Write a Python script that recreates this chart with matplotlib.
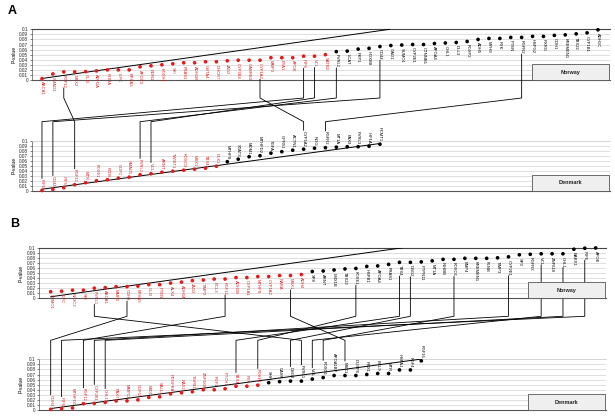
import numpy as np
import matplotlib
matplotlib.use('Agg')
import matplotlib.pyplot as plt
from matplotlib.patches import Rectangle

plt.rcParams['font.family'] = ['Liberation Sans', 'DejaVu Sans']

RED = '#e41a1c'

# ---- panel A, Norway (first n red = significant)
a_nor_genes = ['ABCA1', 'SMAD3', 'FGF12', 'MSX2', 'GLI3', 'ADH1A', 'RORA', 'LIPC', 'EPHA3',
               'APOC3', 'EDN1', 'FOXH1', 'SKI', 'FRAS1', 'ADH1B', 'GSTA4', 'DHCR7', 'JAG2',
               'CYP2B6', 'GABRB3', 'CYP1A2', 'MMP3', 'EYA1', 'APOE', 'IRF6', 'VCL', 'SATB2',
               'PVRL1', 'LCAT', 'PKP1', 'HOXB8', 'CD44', 'GAD1', 'SUMO1', 'CYP2E1', 'CTNNB1',
               'APOA4', 'CHL1', 'DLL3', 'FOXP2', 'ADH5', 'MYH9', 'RYK', 'PTEN', 'FGFR2',
               'HSPG2', 'RXRG', 'CDH1', 'KREMEN1', 'TBX22', 'CYP1B1', 'ADH1C']
a_nor_p = [0.0026, 0.012, 0.016, 0.016, 0.0165, 0.018, 0.020, 0.020, 0.020, 0.026, 0.028,
           0.030, 0.032, 0.034, 0.034, 0.036, 0.036, 0.038, 0.039, 0.039, 0.039, 0.044,
           0.044, 0.044, 0.047, 0.047, 0.050,
           0.056, 0.057, 0.061, 0.0625, 0.066, 0.068, 0.069, 0.070, 0.070, 0.072, 0.073,
           0.074, 0.076, 0.080, 0.082, 0.082, 0.084, 0.084, 0.086, 0.086, 0.088, 0.089,
           0.091, 0.093, 0.099]
a_nor_red = 27

# ---- panel A, Denmark
a_den_genes = ['IRF6', 'CD44', 'IRF5', 'FGF12', 'MTR', 'FOXE1', 'FZD6', 'GDF1', 'SMAD5',
               'PVRL1', 'VCL', 'ARNT', 'TWIST1', 'FOXO3', 'MSX1', 'TBX4', 'DLK1',
               'MTHFS', 'STAT3', 'MDM1', 'MTHFD2', 'TGFA', 'GPR51', 'ACTN1', 'CYP1A2',
               'NOG', 'FGFR2', 'MT1A', 'PAX9', 'PVRL3', 'HIF1A', 'PCMT1']
a_den_p = [0.0005, 0.0027, 0.006, 0.012, 0.016, 0.020, 0.022, 0.025, 0.027, 0.032, 0.034,
           0.037, 0.039, 0.041, 0.043, 0.045, 0.049,
           0.058, 0.063, 0.068, 0.070, 0.075, 0.078, 0.081, 0.083, 0.085, 0.086, 0.087,
           0.088, 0.088, 0.089, 0.093]
a_den_red = 17

# ---- panel B, Norway
b_nor_genes = ['SUMO1', 'LIPC', 'NR3C2', 'SKI', 'PVRL1', 'ABCA1', 'MMP3', 'CDH3', 'EPHA3',
               'GLI3', 'PTEN', 'ALX4', 'ADH1A', 'JAG2', 'TIMP2', 'BCL3', 'FGF12', 'ADH1B',
               'CYP1A1', 'MTHFS', 'CYP1A2', 'RARA', 'MSX1', 'ADH4',
               'SP8', 'ARNT', 'LMX1B', 'TBX22', 'FOXE1', 'HSPB1', 'APOA4', 'FRAS1', 'TBX4',
               'DSG2', 'PTPN11', 'MT1A', 'INHBB', 'FOXO1', 'BMP4', 'KREMEN1', 'FLNB',
               'TIMP3', 'CYP2E1', 'SP3', 'FGFR3', 'VCL', 'ZNF618', 'CHL1', 'BARX1', 'IRF6',
               'APOE']
b_nor_p = [0.013, 0.014, 0.016, 0.016, 0.020, 0.021, 0.023, 0.023, 0.024, 0.027, 0.027,
           0.030, 0.032, 0.035, 0.036, 0.038, 0.038, 0.041, 0.041, 0.043, 0.043, 0.045,
           0.045, 0.047,
           0.053, 0.054, 0.056, 0.058, 0.059, 0.063, 0.064, 0.067, 0.071, 0.071, 0.072,
           0.074, 0.077, 0.077, 0.079, 0.079, 0.079, 0.080, 0.082, 0.086, 0.087, 0.088,
           0.088, 0.088, 0.097, 0.099, 0.0995]
b_nor_red = 24

# ---- panel B, Denmark
b_den_genes = ['CDH3', 'IRF6', 'MTHFD1', 'FGF12', 'CYP2E1', 'CHL1', 'PAX7', 'MMP13', 'GDF11',
               'MID1', 'SALL1', 'PDGFRA', 'RAX2', 'TGFB3', 'ZNF189', 'FGF1', 'PTCH1', 'TBX4',
               'RYK', 'FOXE1',
               'SHH', 'CASR', 'DSG2', 'PVRL1', 'VCL', 'FOXO1', 'APOA1BP', 'MSX1', 'DUSP6',
               'RBX1', 'BCL9', 'MTR', 'HSPA1', 'FGF4', 'FGF16']
b_den_p = [0.0013, 0.0026, 0.004, 0.0125, 0.013, 0.015, 0.018, 0.018, 0.020, 0.025, 0.026,
           0.032, 0.034, 0.036, 0.040, 0.040, 0.042, 0.047, 0.047, 0.049,
           0.054, 0.056, 0.057, 0.057, 0.061, 0.064, 0.068, 0.068, 0.068, 0.070, 0.072,
           0.072, 0.079, 0.079, 0.097]
b_den_red = 20

# slope of the threshold line (p per rank)
fdr_slope = {'a_nor': 0.00304, 'a_den': 0.00295, 'b_nor': 0.0030, 'b_den': 0.00287}

ytick_vals = np.round(np.arange(0, 0.101, 0.01), 2)
ytick_labels = ['0'] + ['%g' % v for v in ytick_vals[1:]]


def draw_panel(ax, genes, pvals, n_red, slope, below, dark_top, xlim):
    k = np.arange(1, len(genes) + 1)
    cols = [RED if i < n_red else 'black' for i in range(len(genes))]
    ax.scatter(k, pvals, s=7, c=cols, linewidths=0, zorder=4, clip_on=False)
    kend = min(len(genes), 0.1 / slope)
    ax.plot([1, kend], [slope, slope * kend], color='black', lw=0.7, zorder=3)
    texts = {}
    for i, (g, p) in enumerate(zip(genes, pvals)):
        off = (0, -2) if below else (0, 2)
        texts[g] = ax.annotate(g, (k[i], p), xytext=off, textcoords='offset points',
                               rotation=270, ha='center', va='top' if below else 'bottom',
                               fontsize=3, color=cols[i], annotation_clip=False)
    ax.set_xlim(xlim)
    ax.set_ylim(0, 0.1)
    ax.set_xticks([])
    ax.set_yticks(ytick_vals)
    ax.set_yticklabels(ytick_labels)
    ax.tick_params(axis='y', labelsize=3.4, length=1.5, width=0.4, pad=1, colors='#222222')
    ax.yaxis.grid(True, color='#d2d2d2', lw=0.5)
    ax.set_axisbelow(True)
    ax.spines['right'].set_visible(False)
    ax.spines['top'].set_color('#444444' if dark_top else '#d2d2d2')
    ax.spines['top'].set_linewidth(0.8 if dark_top else 0.5)
    ax.spines['bottom'].set_color('#555555')
    ax.spines['bottom'].set_linewidth(0.8)
    ax.spines['left'].set_color('#555555')
    ax.spines['left'].set_linewidth(0.5)
    ax.set_ylabel('P-value', fontsize=3.6, labelpad=2)
    ax.patch.set_visible(False)
    return texts


fig = plt.figure(figsize=(6.15, 4.18), dpi=100)

ax_an = fig.add_axes([0.0515, 0.8086, 0.9403, 0.1213])
ax_ad = fig.add_axes([0.0515, 0.5438, 0.9403, 0.1196])
ax_bn = fig.add_axes([0.0639, 0.2864, 0.9215, 0.1210])
ax_bd = fig.add_axes([0.0639, 0.0191, 0.9215, 0.1213])

xlim_a = (0.055, 53.1)
xlim_b = (-0.046, 51.95)

t_an = draw_panel(ax_an, a_nor_genes, a_nor_p, a_nor_red, fdr_slope['a_nor'], True, True, xlim_a)
t_ad = draw_panel(ax_ad, a_den_genes, a_den_p, a_den_red, fdr_slope['a_den'], False, False, xlim_a)
t_bn = draw_panel(ax_bn, b_nor_genes, b_nor_p, b_nor_red, fdr_slope['b_nor'], True, True, xlim_b)
t_bd = draw_panel(ax_bd, b_den_genes, b_den_p, b_den_red, fdr_slope['b_den'], False, False, xlim_b)

fig.text(12 / 615, 1 - 11 / 418, 'A', fontsize=9, fontweight='bold', ha='center', va='center')
fig.text(15 / 615, 1 - 224 / 418, 'B', fontsize=9, fontweight='bold', ha='center', va='center')

fig.canvas.draw()
r = fig.canvas.get_renderer()
W, H = fig.bbox.width, fig.bbox.height

# overlay in pixel coordinates for the connectors and country boxes
ov = fig.add_axes([0, 0, 1, 1])
ov.set_xlim(0, W)
ov.set_ylim(0, H)
ov.axis('off')


def connect(ax_n, tn, ax_d, td):
    yn = ax_n.bbox.y0 - 18
    yd = ax_d.bbox.y1 + 19
    for g in tn:
        if g not in td:
            continue
        bn = tn[g].get_window_extent(r)
        bd = td[g].get_window_extent(r)
        xn = (bn.x0 + bn.x1) / 2
        xd = (bd.x0 + bd.x1) / 2
        y_top = bn.y0 - 0.5
        y_bot = bd.y1 + 0.5
        ov.plot([xn, xn, xd, xd], [y_top, min(yn, y_top), max(yd, y_bot), y_bot],
                color='black', lw=0.6, solid_joinstyle='miter')


def country_box(ax, name):
    bb = ax.bbox
    w, h = 77, 16
    ov.add_patch(Rectangle((bb.x1 - w - 1, bb.y0), w, h, fc='#efefef', ec='#555555',
                           lw=0.6, zorder=5))
    ov.text(bb.x1 - 1 - w / 2, bb.y0 + h / 2, name, ha='center', va='center',
            fontsize=4, fontweight='bold', color='#222222', zorder=6)


connect(ax_an, t_an, ax_ad, t_ad)
connect(ax_bn, t_bn, ax_bd, t_bd)
for a, name in [(ax_an, 'Norway'), (ax_ad, 'Denmark'), (ax_bn, 'Norway'), (ax_bd, 'Denmark')]:
    country_box(a, name)

fig.savefig('out.png', dpi=100)
